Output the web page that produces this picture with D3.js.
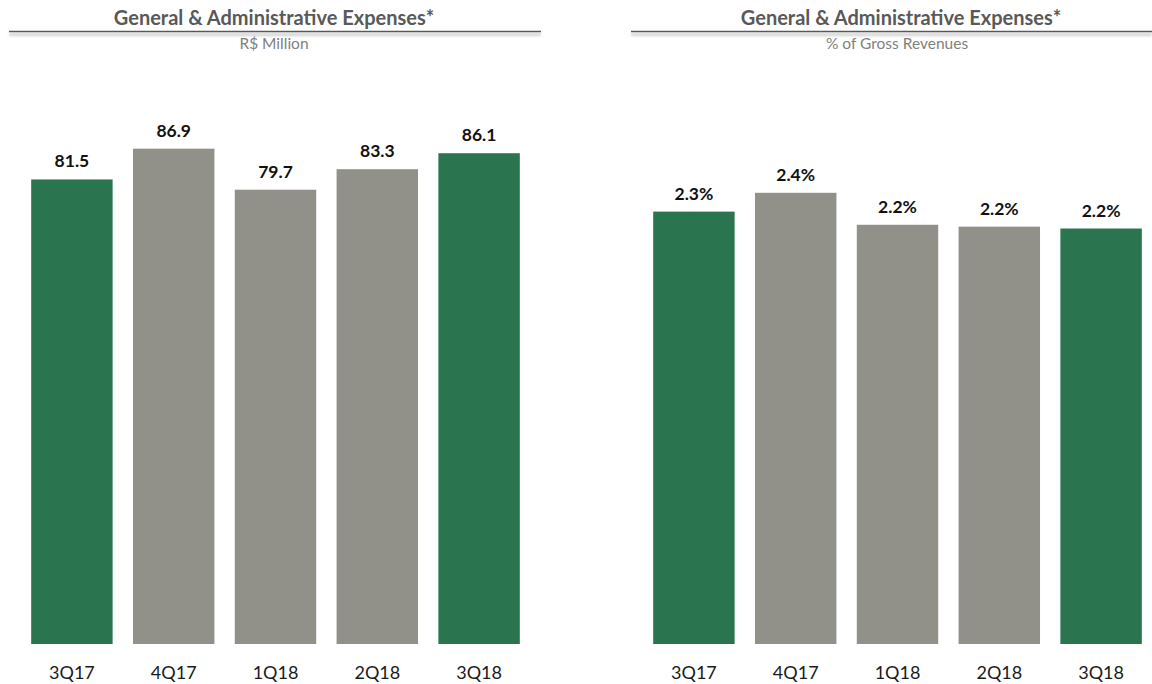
<!DOCTYPE html>
<html>
<head>
<meta charset="utf-8">
<script src="https://cdn.jsdelivr.net/npm/d3@7"></script>
<style>
  html, body { margin: 0; padding: 0; background: #ffffff; }
  svg { display: block; font-family: Lato, "Open Sans", sans-serif; }
</style>
</head>
<body>
<svg id="chart" width="1152" height="684"></svg>
<script>
// Quarters shown on both panels
const quarters = ["3Q17", "4Q17", "1Q18", "2Q18", "3Q18"];
// G&A expenses, R$ million
const gaMillions = [81.5, 86.9, 79.7, 83.3, 86.1];
// G&A expenses as % of gross revenues
const gaPctRevenue = [2.30, 2.40, 2.23, 2.22, 2.21];
// Quarters highlighted in green (same quarter, year over year)
const highlighted = ["3Q17", "3Q18"];

const titleText = "General & Administrative Expenses*";
const subtitles = ["R$ Million", "% of Gross Revenues"];

const GREEN = "#2a7550";
const GRAY = "#919189";

const svg = d3.select("#chart");

// soft shadow under the title rule (user-space region, the line has no height)
const defs = svg.append("defs");
const f = defs.append("filter").attr("id", "ruleShadow")
  .attr("filterUnits", "userSpaceOnUse")
  .attr("x", 0).attr("y", 20).attr("width", 1152).attr("height", 30);
f.append("feGaussianBlur").attr("in", "SourceAlpha").attr("stdDeviation", 1.6).attr("result", "b");
f.append("feOffset").attr("in", "b").attr("dy", 2.5).attr("result", "o");
f.append("feComponentTransfer").attr("in", "o").attr("result", "s")
  .append("feFuncA").attr("type", "linear").attr("slope", 0.35);
const m = f.append("feMerge");
m.append("feMergeNode").attr("in", "s");
m.append("feMergeNode").attr("in", "SourceGraphic");

function panel(cfg) {
  const g = svg.append("g");

  // header
  g.append("text")
    .attr("x", cfg.titleX).attr("y", 25)
    .attr("text-anchor", "middle")
    .attr("font-size", 20).attr("font-weight", 700)
    .attr("fill", "#595959")
    .text(titleText);
  g.append("line")
    .attr("x1", cfg.ruleX[0]).attr("x2", cfg.ruleX[1])
    .attr("y1", 31.5).attr("y2", 31.5)
    .attr("stroke", "#595959").attr("stroke-width", 1.5)
    .attr("filter", "url(#ruleShadow)");
  g.append("text")
    .attr("x", cfg.subX).attr("y", 49)
    .attr("text-anchor", "middle")
    .attr("font-size", 15.5).attr("fill", "#7f7f7f")
    .text(cfg.subtitle);

  const x = d3.scaleBand()
    .domain(quarters)
    .range(cfg.xRange)
    .paddingInner(0.2)
    .paddingOuter(0.1);

  const y = d3.scaleLinear()
    .domain(cfg.yDomain)
    .range([644, cfg.yTop]);

  const rows = quarters.map((q, i) => ({ q, v: cfg.values[i] }));

  g.selectAll("rect.bar")
    .data(rows)
    .join("rect")
    .attr("class", "bar")
    .attr("x", d => x(d.q))
    .attr("width", x.bandwidth())
    .attr("y", d => y(d.v))
    .attr("height", d => y(0) - y(d.v))
    .attr("fill", d => highlighted.includes(d.q) ? GREEN : GRAY);

  g.selectAll("text.val")
    .data(rows)
    .join("text")
    .attr("class", "val")
    .attr("x", d => x(d.q) + x.bandwidth() / 2)
    .attr("y", d => y(d.v) - 12)
    .attr("text-anchor", "middle")
    .attr("font-size", 17.5).attr("font-weight", 700)
    .attr("fill", "#111111")
    .text(d => cfg.fmt(d.v));

  // category axis without line or ticks
  const axis = g.append("g")
    .attr("transform", "translate(0,644)")
    .call(d3.axisBottom(x).tickSize(0).tickPadding(22));
  axis.select(".domain").remove();
  axis.selectAll("text")
    .attr("font-family", "Lato, 'Open Sans', sans-serif")
    .attr("font-size", 18)
    .attr("fill", "#1a1a1a");
}

panel({
  values: gaMillions,
  subtitle: subtitles[0],
  titleX: 274, subX: 274,
  ruleX: [9, 541],
  xRange: [21, 530],
  yDomain: [0, 100], yTop: 74,
  fmt: d3.format(".1f")
});

panel({
  values: gaPctRevenue,
  subtitle: subtitles[1],
  titleX: 901, subX: 897,
  ruleX: [631, 1152],
  xRange: [643, 1152],
  yDomain: [0, 3], yTop: 80,
  fmt: v => d3.format(".1f")(v) + "%"
});
</script>
</body>
</html>
